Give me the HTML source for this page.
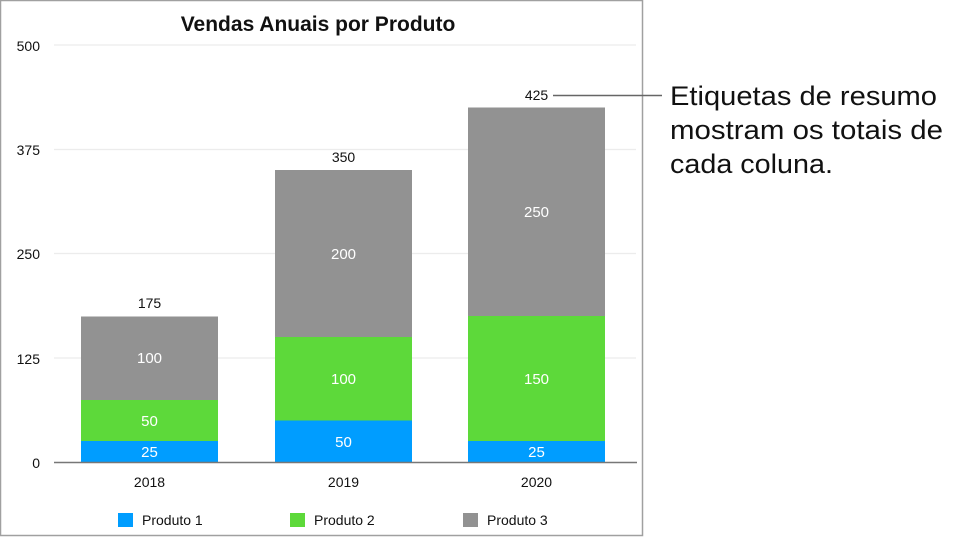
<!DOCTYPE html>
<html><head><meta charset="utf-8"><style>
html,body{margin:0;padding:0;background:#fff;width:959px;height:537px;overflow:hidden}
svg text{font-family:"Liberation Sans",sans-serif}
</style></head><body>
<svg width="959" height="537" viewBox="0 0 959 537" xmlns="http://www.w3.org/2000/svg">
<rect x="0.5" y="0.5" width="642" height="535" fill="#fff" stroke="#a0a0a0" stroke-width="1.5"/>
<text x="318" y="31" text-anchor="middle" font-size="21" font-weight="bold" fill="#111">Vendas Anuais por Produto</text>
<g stroke="#ececec" stroke-width="1.2">
<line x1="54" y1="45" x2="636" y2="45"/><line x1="54" y1="149.5" x2="636" y2="149.5"/>
<line x1="54" y1="253.5" x2="636" y2="253.5"/><line x1="54" y1="358" x2="636" y2="358"/>
</g>
<g font-size="14" fill="#111" text-anchor="end">
<text x="40" y="51">500</text><text x="40" y="155">375</text><text x="40" y="259">250</text><text x="40" y="364">125</text><text x="40" y="468">0</text>
</g>
<rect x="81" y="441" width="137" height="21" fill="#009dff"/>
<rect x="81" y="400" width="137" height="41" fill="#5dd93a"/>
<rect x="81" y="316.5" width="137" height="83.5" fill="#929292"/>
<rect x="275" y="420.5" width="137" height="41.5" fill="#009dff"/>
<rect x="275" y="337" width="137" height="83.5" fill="#5dd93a"/>
<rect x="275" y="170" width="137" height="167" fill="#929292"/>
<rect x="468" y="441" width="137" height="21" fill="#009dff"/>
<rect x="468" y="316" width="137" height="125" fill="#5dd93a"/>
<rect x="468" y="107.5" width="137" height="208.5" fill="#929292"/>
<line x1="54" y1="462.5" x2="637" y2="462.5" stroke="#777" stroke-width="1.5"/>
<g font-size="15" fill="#fff" text-anchor="middle">
<text x="149.5" y="457">25</text><text x="149.5" y="426">50</text><text x="149.5" y="363">100</text>
<text x="343.5" y="447">50</text><text x="343.5" y="384">100</text><text x="343.5" y="259">200</text>
<text x="536.5" y="457">25</text><text x="536.5" y="384">150</text><text x="536.5" y="217">250</text>
</g>
<g font-size="14" fill="#111" text-anchor="middle">
<text x="149.5" y="308">175</text><text x="343.5" y="162">350</text><text x="536.5" y="100">425</text>
<text x="149.5" y="487">2018</text><text x="343.5" y="487">2019</text><text x="536.5" y="487">2020</text>
</g>
<rect x="118" y="513" width="15" height="14" fill="#009dff"/>
<rect x="290" y="513" width="15" height="14" fill="#5dd93a"/>
<rect x="463" y="513" width="15" height="14" fill="#929292"/>
<g font-size="14" fill="#111">
<text x="142" y="525">Produto 1</text><text x="314" y="525">Produto 2</text><text x="487" y="525">Produto 3</text>
</g>
<line x1="553" y1="95.5" x2="662" y2="95.5" stroke="#666" stroke-width="1.5"/>
<g font-size="27" fill="#111">
<text x="670" y="105" textLength="267" lengthAdjust="spacingAndGlyphs">Etiquetas de resumo</text>
<text x="670" y="139" textLength="273" lengthAdjust="spacingAndGlyphs">mostram os totais de</text>
<text x="670" y="173" textLength="163" lengthAdjust="spacingAndGlyphs">cada coluna.</text>
</g>
</svg>
</body></html>
